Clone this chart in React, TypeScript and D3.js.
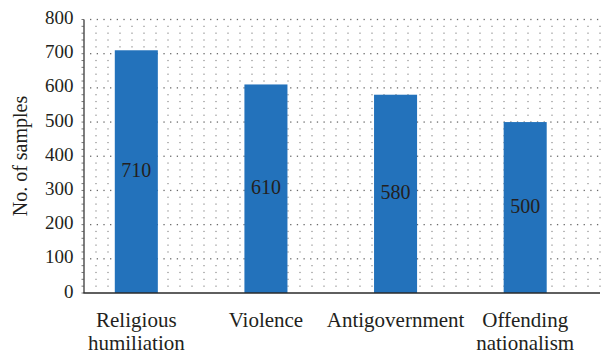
import React from "react";
import * as d3 from "d3";

const categories: string[][] = [
  ["Religious", "humiliation"],
  ["Violence"],
  ["Antigovernment"],
  ["Offending", "nationalism"],
];
const values: number[] = [710, 610, 580, 500];
const yTicks: number[] = [0, 100, 200, 300, 400, 500, 600, 700, 800];
const yTitle = "No. of samples";

const W = 601;
const H = 355;
const axisX = 84;
const plotRight = 600;
const y0 = 293;
const yTop = 19.5;
const FONT = "Liberation Serif, DejaVu Serif, Times New Roman, serif";
const TEXT = "#231f20";
const BLUE = "#2372bb";

export default function App() {
  const y = d3.scaleLinear().domain([0, 800]).range([y0, yTop]);
  const x = d3
    .scaleBand<number>()
    .domain(values.map((_, i) => i))
    .range([71.5, 590])
    .paddingInner(0.668)
    .paddingOuter(0.334);

  const minorVals = d3.range(20, 801, 20).filter((v) => v % 100 !== 0);
  const colXs = d3.range(axisX + 12, plotRight + 0.5, 12);
  const majorDots = d3.range(axisX + 6.67, plotRight + 0.5, 6.67);
  const ts = { fontFamily: FONT } as React.CSSProperties;

  return (
    <svg
      width={W}
      height={H}
      style={{ position: "absolute", left: 0, top: 0, background: "#fff", fontFamily: FONT }}
    >
      <g fill="#8a8a8a">
        {minorVals.map((v) =>
          colXs.map((cx) => (
            <rect key={`m${v}-${cx}`} x={cx - 0.6} y={y(v) - 0.6} width={1.2} height={1.2} />
          ))
        )}
      </g>
      <g fill="#6a6a6a">
        {yTicks
          .filter((v) => v !== 0)
          .map((v) =>
            majorDots.map((cx) => (
              <rect key={`M${v}-${cx}`} x={cx - 0.65} y={y(v) - 0.65} width={1.3} height={1.3} />
            ))
          )}
      </g>
      {values.map((v, i) => (
        <rect
          key={`b${i}`}
          x={x(i)!}
          y={y(v)}
          width={x.bandwidth()}
          height={y(0) - y(v)}
          fill={BLUE}
        />
      ))}
      {values.map((v, i) => (
        <text
          key={`v${i}`}
          x={x(i)! + x.bandwidth() / 2}
          y={(y(v) + y(0)) / 2 + 5}
          textAnchor="middle"
          fontSize={20}
          fill={TEXT}
          style={ts}
        >
          {v}
        </text>
      ))}
      <line x1={axisX} x2={axisX} y1={yTop} y2={y0} stroke="#3a3a3a" strokeWidth={1.3} />
      {d3.range(0, 801, 20).map((v) => (
        <line
          key={`t${v}`}
          x1={axisX - 2.5}
          x2={axisX}
          y1={y(v)}
          y2={y(v)}
          stroke="#555"
          strokeWidth={0.8}
        />
      ))}
      <line x1={axisX - 0.6} x2={plotRight} y1={y0} y2={y0} stroke="#2a2a2a" strokeWidth={1.5} />
      {yTicks.map((v) => (
        <text
          key={`yl${v}`}
          x={73.5}
          y={y(v) + 4.5}
          textAnchor="end"
          fontSize={19}
          fill={TEXT}
          style={ts}
        >
          {v}
        </text>
      ))}
      <text
        transform={`translate(27,156) rotate(-90)`}
        textAnchor="middle"
        fontSize={20}
        fill={TEXT}
        style={ts}
      >
        {yTitle}
      </text>
      {categories.map((lines, i) => (
        <text
          key={`xl${i}`}
          x={x(i)! + x.bandwidth() / 2}
          y={326.5}
          textAnchor="middle"
          fontSize={21}
          fill={TEXT}
          style={ts}
        >
          {lines.map((l, j) => (
            <tspan key={j} x={x(i)! + x.bandwidth() / 2} dy={j === 0 ? 0 : 23.5}>
              {l}
            </tspan>
          ))}
        </text>
      ))}
    </svg>
  );
}
